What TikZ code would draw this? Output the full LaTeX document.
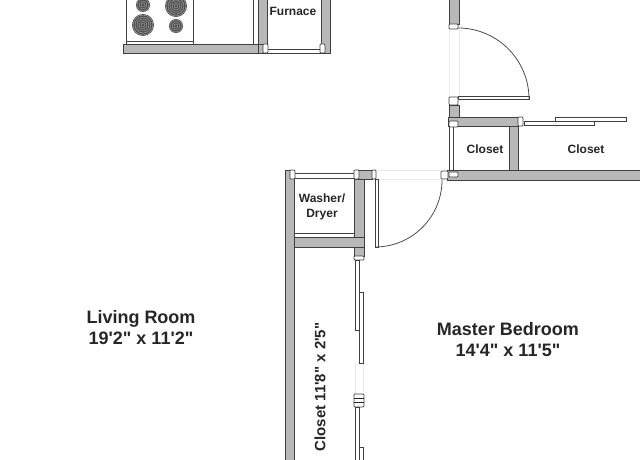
\documentclass[tikz,border=0pt]{standalone}
\usepackage{fontspec}
\setmainfont[Ligatures=TeXOff]{Liberation Sans}
\tikzset{
    wall/.style={fill=wallgray, draw=black!75, line width=0.6pt},
    panel/.style={fill=white, draw=black!75, line width=0.7pt},
    jamb/.style={fill=white, draw=black!75, line width=0.7pt, rounded corners=0.8pt},
    swing/.style={draw=black!70, line width=0.8pt},
    opening/.style={draw=black!8, line width=0.7pt},
    tag/.style={font=\bfseries\fontsize{12}{15}\selectfont, text=black!85, align=center, inner sep=0pt},
    roomtag/.style={font=\bfseries\fontsize{18}{21}\selectfont, text=black!85, align=center, inner sep=0pt}
}
\definecolor{wallgray}{gray}{0.72}
\begin{document}
\begin{tikzpicture}[x=1pt,y=-1pt]
    \useasboundingbox (0,0) rectangle (640,460);
    \fill[white] (0,0) rectangle (640,460);

    % door openings, hardly visible
    \draw[opening] (449,29) -- (449,97);
    \draw[opening] (459,29) -- (459,97);
    \draw[opening] (372,170) -- (441,170);
    \draw[opening] (372,179) -- (441,179);
    \draw[opening] (355,363) -- (355,394);
    \draw[opening] (363,363) -- (363,394);

    % stove and counter
    \draw[panel] (126,-2) rectangle (193,41);
    \draw[panel] (126,41) rectangle (193,44.5);
    \draw[black!85, line width=0.8pt] (193,44.5) -- (253,44.5);
    \foreach \cx/\cy/\rad in {143/5/7,176/6/11,143/25/11,176/26/7}{   % the four burners
        \fill[black!70] (\cx,\cy) circle (\rad);
        \foreach \ring in {2,4,...,10}{
            \ifnum\ring<\rad
                \draw[white!70!black, line width=0.4pt] (\cx,\cy) circle (\ring);
            \fi
        }
    }

    % kitchen wall and furnace
    \draw[wall] (123,44.5) -- (263,44.5) -- (263,53) -- (123,53) -- cycle;
    \draw[panel] (253,-2) rectangle (258,44.5);
    \draw[wall] (258,-2) rectangle (267,44.5);
    \draw[wall] (321,-2) rectangle (330,53);
    \draw[wall] (258,44) rectangle (267,53);
    \draw[panel] (267,49) rectangle (321,53);
    \draw[jamb] (263,44) rectangle (268,53);
    \draw[jamb] (320,44) rectangle (325,53);
    \node[tag] (furnace) at (293,11) {Furnace};

    % right wall and door
    \draw[wall] (449,-2) rectangle (459,24);
    \draw[jamb] (449,24) rectangle (458,29);
    \draw[panel] (458,96) rectangle (529,99);
    \draw[swing] (458,28) arc[start angle=-90, end angle=0, radius=71];
    \draw[jamb] (449,97) rectangle (458,105);
    \draw[wall] (449,105) rectangle (459,117);

    % closets
    \draw[wall] (448,117) rectangle (518,126);
    \draw[panel] (449,126) rectangle (453,172);
    \draw[jamb] (449,121) rectangle (458,127);
    \draw[wall] (509,126) rectangle (518,171);
    \draw[wall] (447,170) rectangle (642,180);
    \draw[jamb] (449,172) rectangle (458,177);
    \draw[jamb] (518,117) rectangle (523,126);
    \draw[panel] (555,117.5) rectangle (626,121);
    \draw[panel] (524,121) rectangle (594,125);
    \node[tag] (closeta) at (485,149.5) {Closet};
    \node[tag] (closetb) at (586,149.5) {Closet};

    % washer and dryer
    \draw[wall] (285,170) rectangle (294,462);
    \draw[wall] (354,170) rectangle (372,179);
    \draw[wall] (354,179) rectangle (364,247);
    \draw[panel] (294,173) rectangle (354,178);
    \draw[jamb] (290,170) rectangle (295,179);
    \draw[jamb] (354,170) rectangle (359,179);
    \draw[jamb] (372,170) rectangle (376,179);
    \draw[panel] (294,233) rectangle (354,237);
    \draw[wall] (294,237) rectangle (364,247);
    \node[tag] (washer) at (322,206.5) {Washer/\\Dryer};

    % bedroom door
    \draw[panel] (375,179) rectangle (378,247);
    \draw[swing] (375,247) arc[start angle=90, end angle=0, radius=67];
    \draw[jamb] (441,171) rectangle (448,179);

    % sliding closet doors
    \draw[wall] (354,247) rectangle (364,256);
    \draw[jamb] (354,256) rectangle (364,260);
    \draw[panel] (355,260) rectangle (359,330);
    \draw[panel] (359,292) rectangle (363,363);
    \draw[jamb] (354,394) rectangle (364,407);
    \draw[black!85, line width=0.7pt] (354,398.5) -- (364,398.5) (354,402.5) -- (364,402.5);
    \draw[panel] (355,407) rectangle (359,462);
    \draw[panel] (359,447) rectangle (363,462);

    % room names
    \node[roomtag] (living) at (141,328) {Living Room\\19'2" x 11'2"};
    \node[roomtag] (master) at (508,340) {Master Bedroom\\14'4" x 11'5"};
    \node[tag, font=\bfseries\fontsize{15}{17}\selectfont, rotate=90] (closetc) at (320,387) {Closet 11'8" x 2'5"};
\end{tikzpicture}
\end{document}
